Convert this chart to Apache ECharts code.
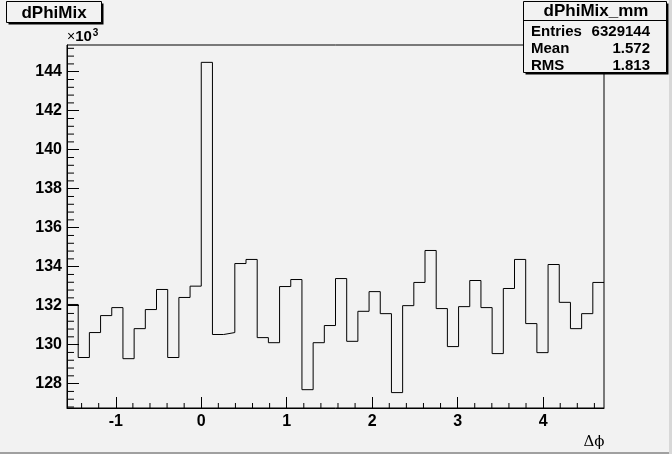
<!DOCTYPE html>
<html>
<head>
<meta charset="utf-8">
<script src="https://cdn.jsdelivr.net/npm/echarts@6/dist/echarts.min.js"></script>
<style>
  html, body { margin: 0; padding: 0; background: #f2f2f2; }
  #chart { width: 672px; height: 454px; }
</style>
</head>
<body>
<div id="chart"></div>
<script>
// dPhiMix bin contents (x10^3 entries), 48 bins from -pi/2 to 3pi/2
var binCounts = [
  132.06, 129.34, 130.62, 131.49, 131.90, 129.28, 130.82, 131.80,
  132.83, 129.34, 132.42, 133.00, 144.48, 130.52, 130.62, 134.16,
  134.37, 130.36, 130.10, 132.98, 133.34, 127.69, 130.10, 130.98,
  133.39, 130.17, 131.71, 132.72, 131.59, 127.54, 132.00, 133.19,
  134.83, 131.85, 129.90, 131.95, 133.29, 131.90, 129.54, 132.88,
  134.37, 131.08, 129.59, 134.11, 132.17, 130.82, 131.59, 133.19
];
var xRange = [-Math.PI / 2, 3 * Math.PI / 2];
var yRange = [126.75, 145.37];
var statsTitle = 'dPhiMix_mm';
var statsNames = ['Entries', 'Mean', 'RMS'];
var statsValues = ['6329144', '1.572', '1.813'];

var chart = echarts.init(document.getElementById('chart'));

// step line through bin edges
var binWidth = (xRange[1] - xRange[0]) / binCounts.length;
var stepData = binCounts.map(function (v, i) { return [xRange[0] + i * binWidth, v]; });
stepData.push([xRange[1], binCounts[binCounts.length - 1]]);

// minor ticks (drawn separately, ECharts splits the partial edge intervals unevenly)
var xMinor = [];
for (var i = Math.ceil(xRange[0] * 5); i <= Math.floor(xRange[1] * 5); i++) {
  if (i % 5 !== 0) xMinor.push(i / 5);
}
var yMinor = [];
for (var j = Math.ceil(yRange[0] / 0.4); j <= Math.floor(yRange[1] / 0.4); j++) {
  if (j % 5 !== 0) yMinor.push(+(j * 0.4).toFixed(2));
}

var font = 'Liberation Sans';
var bold = { fontFamily: font, fontWeight: 'bold', color: '#000' };

var statsGraphics = [
  { type: 'rect', shape: { x: 525.5, y: 3.5, width: 143, height: 71 }, style: { fill: '#000' } },
  { type: 'rect', shape: { x: 523.5, y: 1.5, width: 143, height: 71 }, style: { fill: '#f2f2f2', stroke: '#000', lineWidth: 1 } },
  { type: 'line', shape: { x1: 523.5, y1: 20.5, x2: 666.5, y2: 20.5 }, style: { stroke: '#000', lineWidth: 1 } },
  { type: 'text', x: 596, y: 11, style: Object.assign({ text: statsTitle, fontSize: 17, align: 'center', verticalAlign: 'middle' }, bold) }
];
statsNames.forEach(function (n, k) {
  statsGraphics.push({ type: 'text', x: 531, y: 32 + k * 17, style: Object.assign({ text: n, fontSize: 15, align: 'left', verticalAlign: 'middle' }, bold) });
  statsGraphics.push({ type: 'text', x: 650, y: 32 + k * 17, style: Object.assign({ text: statsValues[k], fontSize: 15, align: 'right', verticalAlign: 'middle' }, bold) });
});

var option = {
  backgroundColor: '#f2f2f2',
  animation: false,
  grid: { left: 67, top: 45, width: 537, height: 363, show: true, borderColor: '#000', borderWidth: 1, backgroundColor: 'transparent' },
  xAxis: {
    type: 'value', min: xRange[0], max: xRange[1], minInterval: 1, maxInterval: 1,
    axisLine: { onZero: false, lineStyle: { color: '#000', width: 1 } },
    axisTick: { inside: true, length: 11, lineStyle: { color: '#000' } },
    splitLine: { show: false },
    axisLabel: Object.assign({ fontSize: 16, margin: 6, showMinLabel: false, showMaxLabel: false }, bold)
  },
  yAxis: {
    type: 'value', min: yRange[0], max: yRange[1], minInterval: 2, maxInterval: 2,
    axisLine: { show: true, onZero: false, lineStyle: { color: '#000', width: 1 } },
    axisTick: { show: true, inside: true, length: 12, lineStyle: { color: '#000' } },
    splitLine: { show: false },
    axisLabel: Object.assign({ fontSize: 16, margin: 5, showMinLabel: false, showMaxLabel: false,
      formatter: function (v) { return Math.round(v); } }, bold)
  },
  series: [
    {
      type: 'line', data: stepData, step: 'end', showSymbol: false, symbol: 'none',
      lineStyle: { color: '#000', width: 1 }, silent: true
    },
    {
      type: 'custom', silent: true, data: xMinor,
      renderItem: function (params, api) {
        var p = api.coord([api.value(0), yRange[0]]);
        return { type: 'line', shape: { x1: p[0], y1: p[1], x2: p[0], y2: p[1] - 5 }, style: { stroke: '#000', lineWidth: 1 } };
      },
      encode: { x: 0 }
    },
    {
      type: 'custom', silent: true, data: yMinor,
      renderItem: function (params, api) {
        var p = api.coord([xRange[0], api.value(0)]);
        return { type: 'line', shape: { x1: p[0], y1: p[1], x2: p[0] + 7, y2: p[1] }, style: { stroke: '#000', lineWidth: 1 } };
      },
      encode: { y: 0 }
    }
  ],
  graphic: [
    // title box
    { type: 'rect', shape: { x: 8.5, y: 3.5, width: 95, height: 21 }, style: { fill: '#000' } },
    { type: 'rect', shape: { x: 6.5, y: 1.5, width: 95, height: 21 }, style: { fill: '#f2f2f2', stroke: '#000', lineWidth: 1 } },
    { type: 'text', x: 54, y: 13, style: Object.assign({ text: 'dPhiMix', fontSize: 17, align: 'center', verticalAlign: 'middle' }, bold) },
    // exponent
    { type: 'text', x: 67, y: 37, style: {
      text: '{m|\u00d7}{b|10}{s|3}', verticalAlign: 'middle',
      rich: {
        m: { fontFamily: font, fontSize: 14, color: '#000' },
        b: { fontFamily: font, fontSize: 15, fontWeight: 'bold', color: '#000' },
        s: { fontFamily: font, fontSize: 10, fontWeight: 'bold', color: '#000', verticalAlign: 'top', padding: [0, 0, 8, 1] }
      } } },
    // axis title
    { type: 'text', x: 594, y: 442, style: { text: '\u0394\u03d5', fontFamily: 'DejaVu Serif', fontSize: 15, color: '#000', align: 'center', verticalAlign: 'middle' } },
    // window border
    { type: 'rect', shape: { x: 0, y: 452, width: 672, height: 2 }, style: { fill: '#a0a0a0' } },
    { type: 'rect', shape: { x: 669, y: 0, width: 3, height: 454 }, style: { fill: '#d8d8d8' } }
  ].concat(statsGraphics)
};
chart.setOption(option);
</script>
</body>
</html>
